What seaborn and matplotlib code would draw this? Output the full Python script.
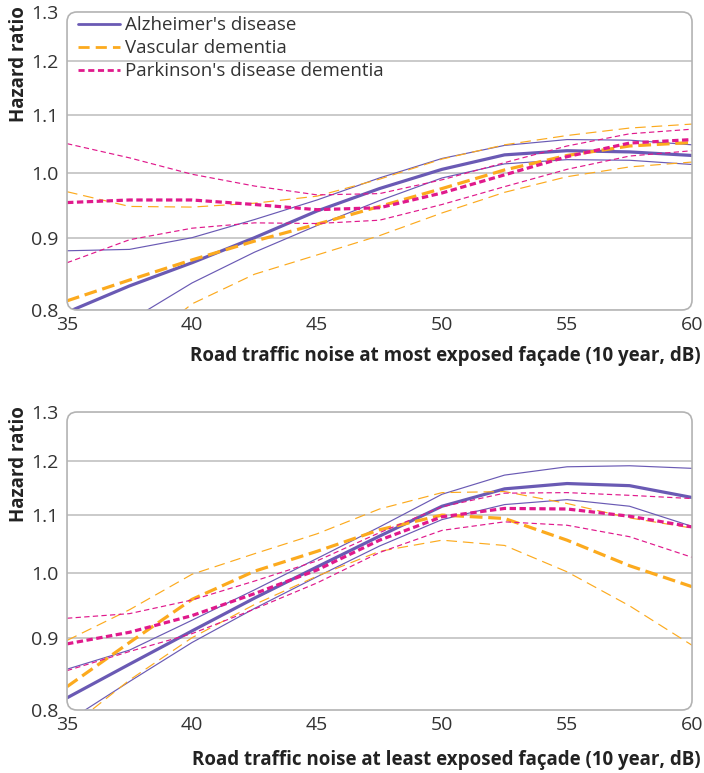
import numpy as np
import pandas as pd
import seaborn as sns
import matplotlib.pyplot as plt
from matplotlib.patches import FancyBboxPatch
from matplotlib.lines import Line2D
from matplotlib.ticker import FixedLocator, FixedFormatter, NullLocator

# ---- data (hazard ratio vs noise, dB) ----
noise_db = [35, 37.5, 40, 42.5, 45, 47.5, 50, 52.5, 55, 57.5, 60]

# most exposed facade
ad_most = [0.797, 0.832, 0.864, 0.900, 0.940, 0.975, 1.006, 1.030, 1.037, 1.035, 1.029]
ad_most_lo = [0.740, 0.786, 0.836, 0.879, 0.918, 0.956, 0.992, 1.015, 1.022, 1.021, 1.014]
ad_most_hi = [0.881, 0.883, 0.900, 0.927, 0.957, 0.992, 1.024, 1.046, 1.056, 1.055, 1.047]
vd_most = [0.812, 0.840, 0.868, 0.895, 0.920, 0.947, 0.975, 1.005, 1.029, 1.045, 1.051]
vd_most_lo = [0.680, 0.745, 0.808, 0.848, 0.875, 0.903, 0.937, 0.969, 0.994, 1.010, 1.018]
vd_most_hi = [0.970, 0.947, 0.946, 0.952, 0.963, 0.990, 1.023, 1.047, 1.063, 1.076, 1.083]
pdd_most = [0.953, 0.957, 0.957, 0.950, 0.942, 0.945, 0.968, 0.997, 1.027, 1.050, 1.056]
pdd_most_lo = [0.864, 0.897, 0.914, 0.922, 0.921, 0.926, 0.950, 0.978, 1.006, 1.028, 1.037]
pdd_most_hi = [1.049, 1.025, 0.998, 0.979, 0.965, 0.967, 0.989, 1.017, 1.045, 1.066, 1.074]

# least exposed facade
ad_least = [0.816, 0.862, 0.910, 0.960, 1.010, 1.062, 1.115, 1.147, 1.157, 1.153, 1.131]
ad_least_lo = [0.785, 0.838, 0.893, 0.944, 0.994, 1.045, 1.091, 1.118, 1.127, 1.115, 1.079]
ad_least_hi = [0.855, 0.882, 0.926, 0.973, 1.024, 1.078, 1.137, 1.173, 1.189, 1.191, 1.186]
vd_least = [0.831, 0.893, 0.958, 1.003, 1.036, 1.073, 1.099, 1.093, 1.055, 1.012, 0.978]
vd_least_lo = [0.775, 0.840, 0.900, 0.950, 0.995, 1.036, 1.055, 1.046, 1.002, 0.948, 0.889]
vd_least_hi = [0.896, 0.942, 0.998, 1.032, 1.066, 1.110, 1.140, 1.142, 1.120, 1.094, 1.076]
pdd_least = [0.891, 0.908, 0.933, 0.967, 1.005, 1.055, 1.096, 1.111, 1.110, 1.097, 1.078]
pdd_least_lo = [0.853, 0.880, 0.906, 0.943, 0.984, 1.034, 1.072, 1.087, 1.081, 1.061, 1.026]
pdd_least_hi = [0.929, 0.936, 0.957, 0.987, 1.020, 1.068, 1.114, 1.139, 1.140, 1.135, 1.129]

diseases = ["Alzheimer's disease", "Vascular dementia", "Parkinson's disease dementia"]
y_ticks = [0.8, 0.9, 1.0, 1.1, 1.2, 1.3]
x_ticks = [35, 40, 45, 50, 55, 60]
xlabels = ["Road traffic noise at most exposed façade (10 year, dB)",
           "Road traffic noise at least exposed façade (10 year, dB)"]

sns.set_style("white")
plt.rcParams['font.family'] = ['Open Sans', 'DejaVu Sans']

PURPLE = '#6a5ab4'
ORANGE = '#fcaa1e'
MAGENTA = '#e0198c'
GRID = '#bcbcbc'
FS = 13.5

# (colour, thin dash, thick dash)
styles = {
    "Alzheimer's disease": (PURPLE, '-', '-'),
    "Vascular dementia": (ORANGE, (0, (9, 5)), (0, (4, 1.8))),
    "Parkinson's disease dementia": (MAGENTA, (0, (4.5, 2.8)), (0, (2.0, 1.1))),
}

panels = [
    {"Alzheimer's disease": (ad_most, ad_most_lo, ad_most_hi),
     "Vascular dementia": (vd_most, vd_most_lo, vd_most_hi),
     "Parkinson's disease dementia": (pdd_most, pdd_most_lo, pdd_most_hi)},
    {"Alzheimer's disease": (ad_least, ad_least_lo, ad_least_hi),
     "Vascular dementia": (vd_least, vd_least_lo, vd_least_hi),
     "Parkinson's disease dementia": (pdd_least, pdd_least_lo, pdd_least_hi)},
]

fig = plt.figure(figsize=(7.04, 7.73), dpi=100)
axes = [fig.add_axes([0.0952, 0.599, 0.8878, 0.3855]),
        fig.add_axes([0.0952, 0.0815, 0.8878, 0.3855])]

for i, ax in enumerate(axes):
    ax.set_yscale('log')
    ax.set_xlim(35, 60)
    ax.set_ylim(0.8, 1.3)

    for g in [0.9, 1.0, 1.1, 1.2]:
        ax.axhline(g, color=GRID, lw=1.1, zorder=0)

    for name in diseases:
        col, thin_ls, thick_ls = styles[name]
        est, lo, hi = panels[i][name]
        for vals in (lo, hi):
            sns.lineplot(x=noise_db, y=vals, ax=ax, color=col, lw=0.85,
                         linestyle=thin_ls, errorbar=None)
        sns.lineplot(x=noise_db, y=est, ax=ax, color=col, lw=2.3,
                     linestyle=thick_ls, errorbar=None)

    for sp in ax.spines.values():
        sp.set_visible(False)

    # rounded frame
    frame = FancyBboxPatch((0, 0), 1, 1, boxstyle="round,pad=0,rounding_size=0.016",
                           transform=ax.transAxes, mutation_aspect=625 / 298,
                           fill=False, ec='#b3b3b3', lw=1.2, clip_on=False, zorder=5)
    ax.add_patch(frame)
    for ln in ax.lines:
        ln.set_clip_path(frame)

    ax.yaxis.set_major_locator(FixedLocator(y_ticks))
    ax.yaxis.set_major_formatter(FixedFormatter([f"{t:.1f}" for t in y_ticks]))
    ax.yaxis.set_minor_locator(NullLocator())
    ax.set_xticks(x_ticks)
    ax.set_xticklabels([str(t) for t in x_ticks])
    ax.set_xticks([40, 45, 50, 55], minor=True)
    ax.tick_params(axis='y', length=0, pad=6, labelsize=14, labelcolor='#333333')
    ax.tick_params(axis='x', which='major', length=0, pad=4, labelsize=14,
                   labelcolor='#333333')
    ax.tick_params(axis='x', which='minor', direction='in', length=7, width=1,
                   color='#b3b3b3')
    ax.set_xlabel('')
    ax.set_ylabel('')

    ax.text(1.014, -0.155 if i == 0 else -0.168, xlabels[i], transform=ax.transAxes,
            ha='right', va='center', fontsize=FS, fontweight='bold', color='#222222')

fig.text(0.027, 0.992, 'Hazard ratio', rotation=90, ha='center', va='top',
         fontsize=FS, fontweight='bold', color='#222222')
fig.text(0.027, 0.474, 'Hazard ratio', rotation=90, ha='center', va='top',
         fontsize=FS, fontweight='bold', color='#222222')

handles = [Line2D([], [], color=PURPLE, lw=2.0, ls='-'),
           Line2D([], [], color=ORANGE, lw=2.0, ls=(0, (4, 2.2))),
           Line2D([], [], color=MAGENTA, lw=2.0, ls=(0, (2.2, 1.3)))]
axes[0].legend(handles, diseases, loc='upper left', bbox_to_anchor=(0.009, 1.005),
               frameon=False, fontsize=FS, handlelength=2.2, handletextpad=0.3,
               labelspacing=0.27, borderaxespad=0.2, borderpad=0.1,
               labelcolor='#333333')

fig.savefig('out.png', dpi=100)
